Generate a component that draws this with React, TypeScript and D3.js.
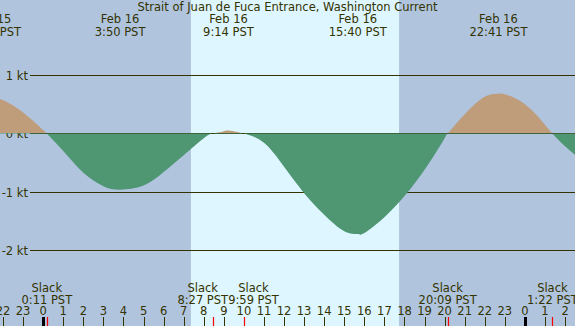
import React, { useRef, useEffect } from 'react';
import * as d3 from 'd3';

// hours since Feb 16 00:00 PST, current in knots (flood +, ebb -)
const readingHours = [-3, -2.55, -2, -1, 0, 0.18, 1, 2, 3, 3.83, 5, 6, 7, 8, 8.45, 9, 9.23, 9.98,
    11, 12, 13, 14, 15, 15.67, 16, 17, 18, 19, 20, 20.15, 21, 22, 22.68, 23, 24, 25, 25.37, 26, 27];
const readingKnots = [0.59, 0.6, 0.57, 0.36, 0.06, 0, -0.3, -0.67, -0.9, -0.96, -0.89, -0.66, -0.37, -0.08, 0, 0.04, 0.05, 0,
    -0.16, -0.57, -1.02, -1.39, -1.67, -1.72, -1.7, -1.43, -1.07, -0.62, -0.08, 0, 0.33, 0.63, 0.68, 0.67, 0.5, 0.15, 0, -0.22, -0.5];

const maxHours = [-2.55, 3.83, 9.23, 15.67, 22.68];
const maxDates = ['Feb 15', 'Feb 16', 'Feb 16', 'Feb 16', 'Feb 16'];
const maxTimes = ['21:27 PST', '3:50 PST', '9:14 PST', '15:40 PST', '22:41 PST'];

const slackHours = [0.18, 8.45, 9.98, 20.15, 25.37];
const slackTimes = ['0:11 PST', '8:27 PST', '9:59 PST', '20:09 PST', '1:22 PST'];

const knotTicks = [1, 0, -1, -2];
const hourTicks = d3.range(-2, 27);
const daylight = [7.36, 17.73];

const title = 'Strait of Juan de Fuca Entrance, Washington Current';

const W = 575;
const H = 326;
const ink = '#333300';
const font = "'DejaVu Sans', sans-serif";
const fs = 11.5;

const App: React.FC = () => {
    const svgRef = useRef<SVGSVGElement | null>(null);

    useEffect(() => {
        const svg = d3.select(svgRef.current);
        svg.selectAll('*').remove();

        const x = d3.scaleLinear().domain([0, 24]).range([43.2, 524.9]);
        const y = d3.scaleLinear().domain([0, 1]).range([133.5, 75]);
        const px = (v: number) => Math.floor(y(v)) + 0.5;

        // night / day background
        svg.append('rect').attr('width', W).attr('height', H).attr('fill', '#b0c4de');
        svg.append('rect')
            .attr('x', x(daylight[0]))
            .attr('width', x(daylight[1]) - x(daylight[0]))
            .attr('height', H)
            .attr('fill', '#def6ff');

        // knot grid lines
        const grid = svg.append('g');
        grid.selectAll('line').data(knotTicks).enter().append('line')
            .attr('x1', 30).attr('x2', W)
            .attr('y1', d => px(d)).attr('y2', d => px(d))
            .attr('stroke', ink).attr('stroke-width', 1);
        grid.selectAll('text').data(knotTicks).enter().append('text')
            .attr('x', 28).attr('y', d => px(d) + 4.5)
            .attr('text-anchor', 'end')
            .attr('font-family', font).attr('font-size', fs).attr('fill', ink)
            .text(d => `${d} kt`);

        // current curve, split at zero into flood and ebb fills
        const zeroY = Math.floor(y(0));
        const defs = svg.append('defs');
        defs.append('clipPath').attr('id', 'flood-clip')
            .append('rect').attr('x', 0).attr('y', 0).attr('width', W).attr('height', zeroY);
        defs.append('clipPath').attr('id', 'ebb-clip')
            .append('rect').attr('x', 0).attr('y', zeroY).attr('width', W).attr('height', H - zeroY);

        const pts = readingHours.map((h, i) => [h, readingKnots[i]] as [number, number]);
        const area = d3.area<[number, number]>()
            .x(d => x(d[0]))
            .y0(y(0))
            .y1(d => y(d[1]))
            .curve(d3.curveNatural);

        svg.append('path').datum(pts)
            .attr('d', area)
            .attr('fill', '#4f9673')
            .attr('clip-path', 'url(#ebb-clip)');
        svg.append('path').datum(pts)
            .attr('d', area)
            .attr('fill', '#bf9c7a')
            .attr('clip-path', 'url(#flood-clip)');

        // title
        svg.append('text')
            .attr('x', W / 2).attr('y', 11)
            .attr('text-anchor', 'middle')
            .attr('font-family', font).attr('font-size', fs).attr('fill', ink)
            .text(title);

        // max current labels
        const maxG = svg.append('g')
            .attr('font-family', font).attr('font-size', fs).attr('fill', ink)
            .attr('text-anchor', 'middle');
        maxHours.forEach((h, i) => {
            maxG.append('text').attr('x', x(h)).attr('y', 23).text(maxDates[i]);
            maxG.append('text').attr('x', x(h)).attr('y', 35.5).text(maxTimes[i]);
        });

        // slack labels, pushed apart where neighbours would collide
        const slackG = svg.append('g')
            .attr('font-family', font).attr('font-size', fs).attr('fill', ink)
            .attr('text-anchor', 'middle');
        const labels = slackHours.map((h, i) => {
            const top = slackG.append('text').attr('y', 292).text('Slack');
            const bottom = slackG.append('text').attr('y', 303.5).text(slackTimes[i]);
            const w = Math.max(
                (top.node() as SVGTextElement).getComputedTextLength(),
                (bottom.node() as SVGTextElement).getComputedTextLength()
            );
            return { cx: x(h), w, top, bottom };
        });
        for (let i = 1; i < labels.length; i++) {
            const a = labels[i - 1];
            const b = labels[i];
            const need = (a.w + b.w) / 2;
            const gap = b.cx - a.cx;
            if (gap < need) {
                const push = (need - gap) / 2;
                a.cx -= push;
                b.cx += push;
            }
        }
        labels.forEach(l => {
            l.top.attr('x', l.cx);
            l.bottom.attr('x', l.cx);
        });

        // hour axis
        const axisG = svg.append('g');
        axisG.selectAll('text').data(hourTicks).enter().append('text')
            .attr('x', d => x(d)).attr('y', 314.5)
            .attr('text-anchor', 'middle')
            .attr('font-family', font).attr('font-size', fs).attr('fill', ink)
            .text(d => String(((d % 24) + 24) % 24));
        axisG.selectAll('line.hour').data(hourTicks).enter().append('line')
            .attr('class', 'hour')
            .attr('x1', d => Math.round(x(d)) + 0.5).attr('x2', d => Math.round(x(d)) + 0.5)
            .attr('y1', 317).attr('y2', H)
            .attr('stroke', d => (d % 24 === 0 ? '#000' : ink))
            .attr('stroke-width', d => (d % 24 === 0 ? 3 : 1));
        axisG.selectAll('line.slack').data(slackHours).enter().append('line')
            .attr('class', 'slack')
            .attr('x1', d => Math.round(x(d)) + 0.5).attr('x2', d => Math.round(x(d)) + 0.5)
            .attr('y1', 317).attr('y2', H)
            .attr('stroke', '#ff0000').attr('stroke-width', 1.2);
    }, []);

    return (
        <svg ref={svgRef} width={W} height={H}
            style={{ position: 'absolute', left: 0, top: 0, display: 'block' }} />
    );
};

export default App;
